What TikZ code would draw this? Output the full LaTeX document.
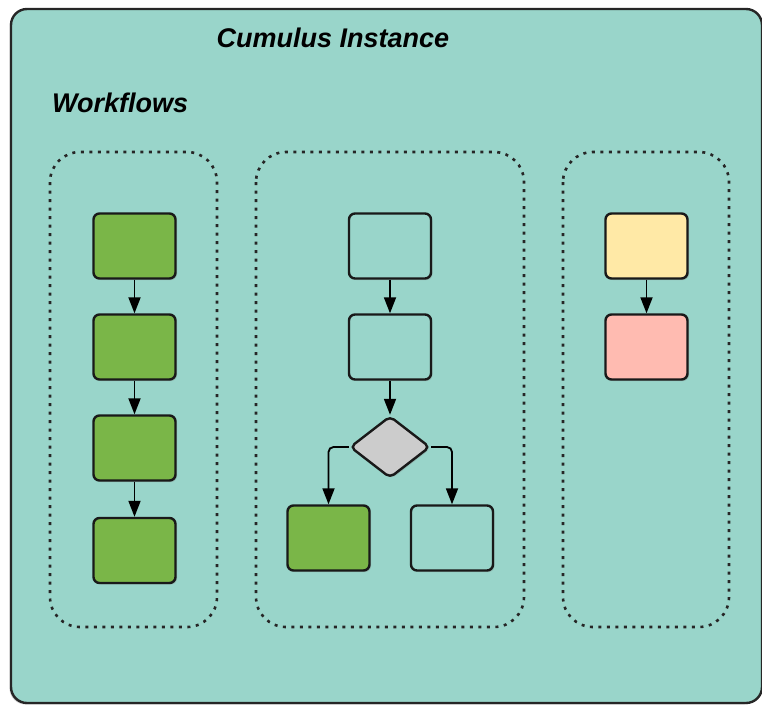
\documentclass[tikz,border=0pt]{standalone}
\usepackage{fontspec}
\setmainfont{Liberation Sans}
\usetikzlibrary{shapes.geometric,arrows.meta,shadows}
\definecolor{bgteal}{HTML}{99D5CA}
\definecolor{boxgreen}{HTML}{7AB648}
\definecolor{boxyellow}{HTML}{FFE9A6}
\definecolor{boxpink}{HTML}{FFBBB1}
\definecolor{boxgray}{HTML}{CCCCCC}
\tikzset{
  frame/.style={draw=black!85, line width=2.4pt, rounded corners=16pt, fill=bgteal,
    drop shadow={shadow xshift=-1.5pt, shadow yshift=-1.5pt, opacity=0.35}},
  group/.style={draw=black!85, line width=2.6pt, dash pattern=on 3pt off 5.5pt, rounded corners=30pt},
  stepbox/.style={draw=black!90, line width=2.4pt, rounded corners=6pt, minimum width=82pt, minimum height=65pt, inner sep=0pt,
    drop shadow={shadow xshift=1.5pt, shadow yshift=-1.5pt, opacity=0.3}},
  decide/.style={diamond, draw=black!90, line width=2.4pt, fill=boxgray, minimum width=80pt, minimum height=62pt, inner sep=0pt, rounded corners=5pt,
    drop shadow={shadow xshift=1.5pt, shadow yshift=-1.5pt, opacity=0.3}},
  flow/.style={draw=black, line width=1.8pt, -{Triangle[length=16pt,width=12pt]}},
  heading/.style={font=\bfseries\itshape\fontsize{27}{32}\selectfont, inner sep=0pt}
}
\begin{document}
\begin{tikzpicture}[x=1pt,y=-1pt]
\useasboundingbox (0,0) rectangle (762,705);
\draw[frame] (11,9) rectangle (762,703);
\node[heading, anchor=center] (title) at (333,38) {Cumulus Instance};
\node[heading, anchor=west] (wf) at (52,103) {Workflows};
% groups
\draw[group] (50,152) rectangle (217,627);
\draw[group] (256,152) rectangle (524,627);
\draw[group] (563,152) rectangle (729,627);
% group 1
\node[stepbox, fill=boxgreen] (a1) at (134.5,246) {};
\node[stepbox, fill=boxgreen] (a2) at (134.5,347) {};
\node[stepbox, fill=boxgreen] (a3) at (134.5,448) {};
\node[stepbox, fill=boxgreen] (a4) at (134.5,550.5) {};
\draw[flow] (a1) -- (a2);
\draw[flow] (a2) -- (a3);
\draw[flow] (a3) -- (a4);
% group 2
\node[stepbox, fill=bgteal] (b1) at (390,246) {};
\node[stepbox, fill=bgteal] (b2) at (390,347) {};
\node[decide] (d) at (390,447) {};
\node[stepbox, fill=boxgreen] (b3) at (328.5,538) {};
\node[stepbox, fill=bgteal] (b4) at (452,538) {};
\draw[flow] (b1) -- (b2);
\draw[flow] (b2) -- (d);
\draw[flow, rounded corners=5pt] (d.west) -| (b3.north);
\draw[flow, rounded corners=5pt] (d.east) -| (b4.north);
% group 3
\node[stepbox, fill=boxyellow] (c1) at (646.5,246) {};
\node[stepbox, fill=boxpink] (c2) at (646.5,347) {};
\draw[flow] (c1) -- (c2);
\end{tikzpicture}
\end{document}
